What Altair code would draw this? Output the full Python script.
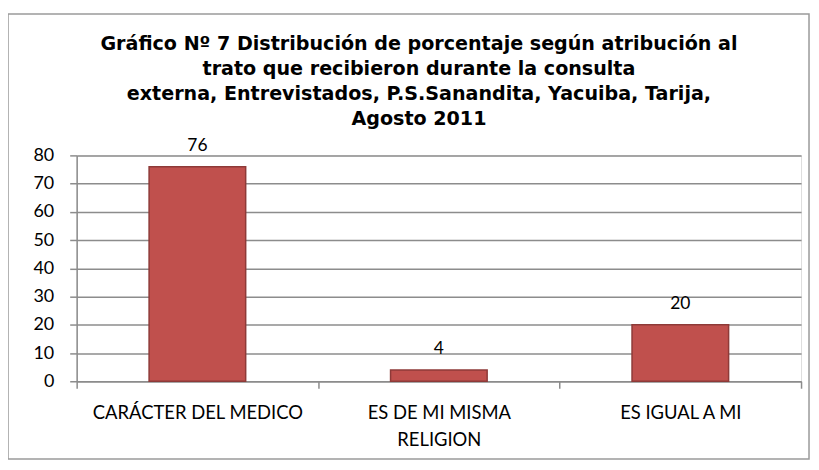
import altair as alt
import pandas as pd

categories = ["CARÁCTER DEL MEDICO", "ES DE MI MISMA\nRELIGION", "ES IGUAL A MI"]
values = [76, 4, 20]
y_ticks = [0, 10, 20, 30, 40, 50, 60, 70, 80]
title_lines = [
    "Gráfico Nº 7 Distribución de porcentaje  según atribución al",
    "trato que recibieron durante  la consulta",
    "externa, Entrevistados,  P.S.Sanandita,  Yacuiba, Tarija,",
    "Agosto 2011",
]

df = pd.DataFrame({"cat": categories, "val": values, "idx": list(range(len(categories)))})

# label expression built from the category list
parts = []
for i, c in enumerate(categories):
    lines = c.split("\n")
    arr = "[" + ",".join("'" + l + "'" for l in lines) + "]"
    parts.append(f"abs(datum.value - {i + 0.5}) < 0.01 ? {arr} : ")
label_expr = "".join(parts) + "''"

n = len(categories)
x_vals = [i * 0.5 for i in range(2 * n + 1)]

xscale = alt.Scale(domain=[0, n], nice=False, zero=False)
yscale = alt.Scale(domain=[0, 80], nice=False)

x_axis = alt.Axis(
    values=x_vals,
    labelExpr=label_expr,
    labelOverlap=False,
    labelFlush=False,
    labelBound=False,
    labelLimit=400,
    grid=False,
    tickSize=7,
    tickColor="#8C8C8C",
    tickWidth=1.5,
    tickOpacity=alt.condition("datum.value % 1 === 0", alt.value(1), alt.value(0)),
    domainColor="#8C8C8C",
    domainWidth=1.5,
    labelFont="Lato",
    labelFontSize=18.5,
    labelColor="#000000",
    labelPadding=15,
    labelLineHeight=28,
    labelBaseline="top",
)
y_axis = alt.Axis(
    values=y_ticks,
    labelOverlap=False,
    grid=True,
    gridColor="#8C8C8C",
    gridWidth=1.5,
    tickSize=7,
    tickColor="#8C8C8C",
    tickWidth=1.5,
    domainColor="#8C8C8C",
    domainWidth=1.5,
    labelFont="Lato",
    labelFontSize=18,
    labelColor="#000000",
    labelPadding=16,
)

base = alt.Chart(df).transform_calculate(
    pos="datum.idx + 0.5", x1="datum.idx + 0.3", x2="datum.idx + 0.7"
)

bars = base.mark_bar(color="#C0504D", stroke="#8E3A38", strokeWidth=1.5).encode(
    x=alt.X("x1:Q", scale=xscale, title=None, axis=x_axis),
    x2="x2:Q",
    y=alt.Y("val:Q", scale=yscale, title=None, axis=y_axis),
    y2=alt.datum(0),
)

labels = base.mark_text(font="Lato", fontSize=17.5, color="#000000", baseline="middle", dy=-21).encode(
    x=alt.X("pos:Q", scale=xscale, title=None, axis=x_axis),
    y=alt.Y("val:Q", scale=yscale, title=None, axis=y_axis),
    text="val:Q",
)

border = alt.Chart(pd.DataFrame({"a": [0]})).mark_rect(
    fillOpacity=0, stroke="#9A9A9A", strokeWidth=1.5
).encode(x=alt.value(-69), x2=alt.value(736), y=alt.value(-142), y2=alt.value(305))

chart = (
    alt.layer(border, bars, labels)
    .properties(
        width=728,
        height=227,
        autosize=alt.AutoSizeParams(type="none"),
        padding={"left": 69, "top": 147, "right": 10, "bottom": 79},
        title=alt.TitleParams(
            text=title_lines,
            font="DejaVu Sans",
            fontSize=19.2,
            fontWeight="bold",
            color="#000000",
            anchor="middle",
            lineHeight=25,
            offset=-116,
            dx=-20,
        ),
    )
    .configure_view(fill="#E6E6E6", stroke=None)
    .configure(background="#FFFFFF")
)

chart.save("out.html", embed_options={"renderer": "svg", "actions": False})
